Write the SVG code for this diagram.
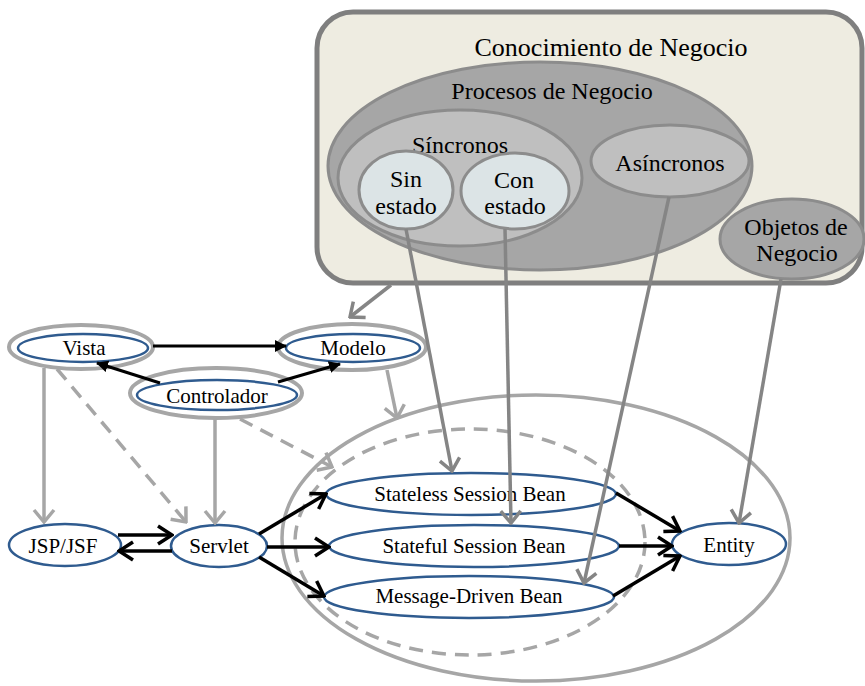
<svg xmlns="http://www.w3.org/2000/svg" width="865" height="686" viewBox="0 0 865 686">
<style>
text{font-family:"Liberation Serif","Times New Roman",serif;fill:#000;text-anchor:middle}
.t24{font-size:24px}
.t26{font-size:26px}
.t21{font-size:21px}
.blue{fill:#fff;stroke:#2F5B8F;stroke-width:2.5}
.halo{fill:#fff;stroke:#A6A6A6;stroke-width:4}
.blk{stroke:#000;stroke-width:3.5;fill:none}
.blkf{stroke:#000;stroke-width:3;fill:none}
.lg{stroke:#A6A6A6;stroke-width:3.5;fill:none}
.lgd{stroke:#A6A6A6;stroke-width:3.5;fill:none;stroke-dasharray:14 9}
.dg{stroke:#858585;stroke-width:3.5;fill:none}
</style>
<defs>
<marker id="ab" markerUnits="userSpaceOnUse" viewBox="0 0 18 22" markerWidth="18" markerHeight="22" refX="16" refY="11" orient="auto"><path d="M2,2 L16,11 L2,20" fill="none" stroke="#000" stroke-width="3.5"/></marker>
<marker id="ag" markerUnits="userSpaceOnUse" viewBox="0 0 16 24" markerWidth="16" markerHeight="24" refX="14" refY="12" orient="auto"><path d="M2,2 L14,12 L2,22" fill="none" stroke="#A6A6A6" stroke-width="3.5"/></marker>
<marker id="ad" markerUnits="userSpaceOnUse" viewBox="0 0 16 24" markerWidth="16" markerHeight="24" refX="14" refY="12" orient="auto"><path d="M2,2 L14,12 L2,22" fill="none" stroke="#858585" stroke-width="3.5"/></marker>
<marker id="af" markerUnits="userSpaceOnUse" viewBox="0 0 12 12" markerWidth="12" markerHeight="12" refX="11" refY="6" orient="auto"><path d="M0,0 L12,6 L0,12 z" fill="#000"/></marker>
</defs>

<g id="conocimiento">
<rect x="317" y="12" width="545" height="271" rx="36" ry="36" fill="#EEECE1" stroke="#7F7F7F" stroke-width="5"/>
<text class="t26" x="611" y="56">Conocimiento de Negocio</text>
</g>
<g id="procesos">
<ellipse cx="540" cy="166" rx="212" ry="104" fill="#A6A6A6" stroke="#8C8C8C" stroke-width="3"/>
<text class="t24" x="552" y="99">Procesos de Negocio</text>
</g>
<g id="sincronos">
<ellipse cx="460" cy="178" rx="122" ry="68" fill="#BFBFBF" stroke="#8C8C8C" stroke-width="3"/>
<text class="t24" x="460" y="153">Síncronos</text>
</g>
<g id="sin-estado">
<ellipse cx="406" cy="190" rx="47" ry="39" fill="#DCE4E6" stroke="#8C8C8C" stroke-width="3"/>
<text class="t24" x="406" y="187">Sin</text>
<text class="t24" x="406" y="214">estado</text>
</g>
<g id="con-estado">
<ellipse cx="515" cy="191" rx="54" ry="38" fill="#DCE4E6" stroke="#8C8C8C" stroke-width="3"/>
<text class="t24" x="514" y="188">Con</text>
<text class="t24" x="515" y="214">estado</text>
</g>
<g id="asincronos">
<ellipse cx="670" cy="161" rx="79" ry="36" fill="#BFBFBF" stroke="#8C8C8C" stroke-width="3"/>
<text class="t24" x="670" y="171">Asíncronos</text>
</g>
<g id="objetos">
<ellipse cx="792" cy="239" rx="72" ry="40" fill="#A6A6A6" stroke="#8C8C8C" stroke-width="3"/>
<text class="t24" x="796" y="235">Objetos de</text>
<text class="t24" x="797" y="261">Negocio</text>
</g>

<g id="contenedor-ejb">
<ellipse cx="536" cy="538" rx="254" ry="143" fill="none" stroke="#A6A6A6" stroke-width="3.5"/>
<ellipse cx="470" cy="542" rx="175" ry="113" class="lgd"/>
</g>

<g id="vista">
<ellipse cx="81" cy="347" rx="72" ry="22" class="halo"/>
<ellipse cx="83" cy="348" rx="65" ry="14" class="blue"/>
<text class="t21" x="84" y="355">Vista</text>
</g>
<g id="modelo">
<ellipse cx="352" cy="347" rx="74" ry="23" class="halo"/>
<ellipse cx="353" cy="348" rx="67" ry="14" class="blue"/>
<text class="t21" x="353" y="355">Modelo</text>
</g>
<g id="controlador">
<ellipse cx="216" cy="393" rx="86" ry="25" class="halo"/>
<ellipse cx="217" cy="395" rx="80" ry="15" class="blue"/>
<text class="t21" x="217" y="403">Controlador</text>
</g>
<g id="jsp">
<ellipse cx="65" cy="545" rx="56" ry="21" class="blue"/>
<text class="t21" x="63" y="553">JSP/JSF</text>
</g>
<g id="servlet">
<ellipse cx="219" cy="546" rx="48" ry="21" class="blue"/>
<text class="t21" x="219" y="553">Servlet</text>
</g>
<g id="stateless">
<ellipse cx="471" cy="494" rx="145" ry="21" class="blue"/>
<text class="t21" x="470" y="501">Stateless Session Bean</text>
</g>
<g id="stateful">
<ellipse cx="474" cy="546" rx="145" ry="21" class="blue"/>
<text class="t21" x="474" y="553">Stateful Session Bean</text>
</g>
<g id="mdb">
<ellipse cx="469" cy="597" rx="145" ry="21" class="blue"/>
<text class="t21" x="469" y="603">Message-Driven Bean</text>
</g>
<g id="entity">
<ellipse cx="729" cy="544" rx="57" ry="21" class="blue"/>
<text class="t21" x="729" y="552">Entity</text>
</g>

<g id="conectores">
<line x1="153" y1="346" x2="286" y2="346" class="blkf" marker-end="url(#af)"/>
<line x1="160" y1="383" x2="97" y2="363" class="blkf" marker-end="url(#af)"/>
<line x1="278" y1="382" x2="340" y2="364" class="blkf" marker-end="url(#af)"/>

<line x1="44" y1="368" x2="44" y2="522" class="lg" marker-end="url(#ag)"/>
<line x1="57" y1="369" x2="186" y2="522" class="lgd" marker-end="url(#ag)"/>
<line x1="215" y1="418" x2="215" y2="523" class="lg" marker-end="url(#ag)"/>
<line x1="240" y1="419" x2="332" y2="467" class="lgd" marker-end="url(#ag)"/>
<line x1="387" y1="370" x2="397" y2="418" class="lg" marker-end="url(#ag)"/>

<line x1="391" y1="285" x2="350" y2="317" class="dg" marker-end="url(#ad)"/>
<line x1="406" y1="229" x2="452" y2="471" class="dg" marker-end="url(#ad)"/>
<line x1="505" y1="229" x2="511" y2="523" class="dg" marker-end="url(#ad)"/>
<line x1="669" y1="197" x2="584" y2="583" class="dg" marker-end="url(#ad)"/>
<line x1="781" y1="279" x2="739" y2="523" class="dg" marker-end="url(#ad)"/>

<line x1="118" y1="535" x2="172" y2="535" class="blk" marker-end="url(#ab)"/>
<line x1="172" y1="551" x2="119" y2="551" class="blk" marker-end="url(#ab)"/>
<line x1="259" y1="534" x2="326" y2="494" class="blk" marker-end="url(#ab)"/>
<line x1="267" y1="547" x2="329" y2="547" class="blk" marker-end="url(#ab)"/>
<line x1="259" y1="557" x2="324" y2="596" class="blk" marker-end="url(#ab)"/>
<line x1="616" y1="493" x2="680" y2="531" class="blk" marker-end="url(#ab)"/>
<line x1="619" y1="546" x2="672" y2="546" class="blk" marker-end="url(#ab)"/>
<line x1="613" y1="596" x2="680" y2="556" class="blk" marker-end="url(#ab)"/>
</g>
</svg>
